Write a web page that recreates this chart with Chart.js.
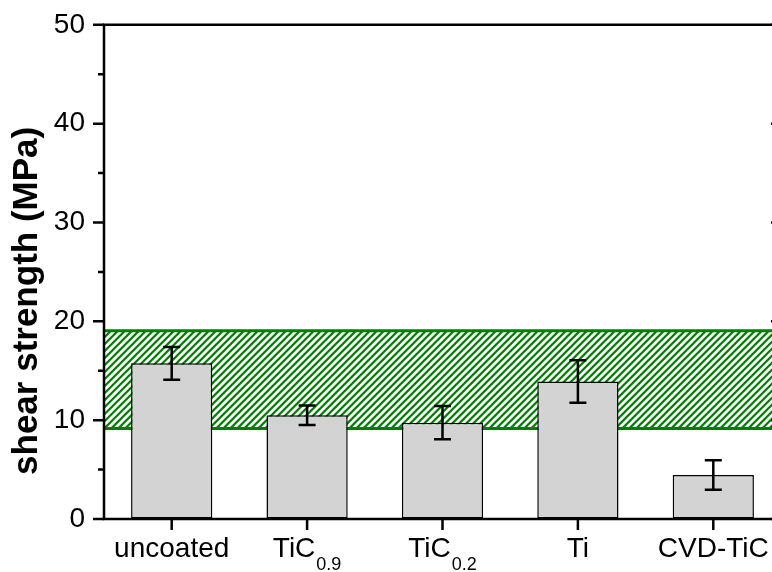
<!DOCTYPE html>
<html>
<head>
<meta charset="utf-8">
<script src="https://cdn.jsdelivr.net/npm/chart.js@4/dist/chart.umd.min.js"></script>
<style>
  html, body { margin: 0; padding: 0; overflow: hidden; background: #fff; width: 772px; height: 572px; }
  canvas { display: block; }
</style>
</head>
<body>
<canvas id="chart" width="790" height="572"></canvas>
<script>
// Shear strength of the joints for each coating
const categories = ['uncoated', 'TiC0.9', 'TiC0.2', 'Ti', 'CVD-TiC'];
const labelMain = ['uncoated', 'TiC', 'TiC', 'Ti', 'CVD-TiC'];
const labelSub = ['', '0.9', '0.2', '', ''];
const strength = [15.75, 10.5, 9.75, 13.9, 4.45];
const strengthErr = [1.65, 0.98, 1.68, 2.15, 1.5];
// reference range shown as a hatched band
const bandRange = [9.15, 19.05];
const yMajorTicks = [0, 10, 20, 30, 40, 50];

const FONT = "'Liberation Sans', Arial, sans-serif";
const GREEN = '#008000';

const bandPlugin = {
  id: 'band',
  beforeDatasetsDraw(chart) {
    const { ctx, chartArea: a, scales: { y } } = chart;
    const top = y.getPixelForValue(bandRange[1]);
    const bot = y.getPixelForValue(bandRange[0]);
    const h = bot - top;
    ctx.save();
    ctx.beginPath();
    ctx.rect(a.left, top, a.right - a.left, h);
    ctx.clip();
    ctx.strokeStyle = GREEN;
    ctx.lineWidth = 2.2;
    ctx.beginPath();
    for (let x = a.left - h; x < a.right + 8; x += 7) {
      ctx.moveTo(x, bot);
      ctx.lineTo(x + h, top);
    }
    ctx.stroke();
    ctx.restore();
    ctx.save();
    ctx.strokeStyle = GREEN;
    ctx.lineWidth = 3;
    ctx.beginPath();
    ctx.moveTo(a.left, top); ctx.lineTo(a.right, top);
    ctx.moveTo(a.left, bot); ctx.lineTo(a.right, bot);
    ctx.stroke();
    ctx.restore();
  }
};

const errorBarPlugin = {
  id: 'errorBars',
  afterDatasetsDraw(chart) {
    const { ctx, scales: { y } } = chart;
    const meta = chart.getDatasetMeta(0);
    ctx.save();
    ctx.strokeStyle = '#000';
    ctx.lineWidth = 2.5;
    meta.data.forEach((bar, i) => {
      const x = bar.x;
      const yHi = y.getPixelForValue(strength[i] + strengthErr[i]);
      const yLo = y.getPixelForValue(strength[i] - strengthErr[i]);
      ctx.beginPath();
      ctx.moveTo(x, yHi); ctx.lineTo(x, yLo);
      ctx.moveTo(x - 8.5, yHi); ctx.lineTo(x + 8.5, yHi);
      ctx.moveTo(x - 8.5, yLo); ctx.lineTo(x + 8.5, yLo);
      ctx.stroke();
    });
    ctx.restore();
  }
};

const framePlugin = {
  id: 'frame',
  afterDraw(chart) {
    const { ctx, chartArea: a, scales: { x, y } } = chart;
    ctx.save();
    ctx.strokeStyle = '#000';
    ctx.lineWidth = 2.5;
    ctx.lineCap = 'square';
    ctx.beginPath();
    ctx.moveTo(a.left, a.top); ctx.lineTo(a.right, a.top);
    ctx.lineTo(a.right, a.bottom); ctx.lineTo(a.left, a.bottom);
    ctx.closePath();
    ctx.stroke();
    ctx.lineCap = 'butt';
    // y ticks: majors every 10, minors every 5; outward on the left, inward on the right
    ctx.beginPath();
    for (let v = 0; v <= 50; v += 5) {
      const py = y.getPixelForValue(v);
      const major = yMajorTicks.includes(v);
      const len = major ? 11 : 6;
      ctx.moveTo(a.left, py); ctx.lineTo(a.left - len, py);
      ctx.moveTo(a.right, py); ctx.lineTo(a.right - (major ? 10 : 5), py);
    }
    // x ticks, outward
    categories.forEach((c, i) => {
      const px = x.getPixelForValue(i);
      ctx.moveTo(px, a.bottom); ctx.lineTo(px, a.bottom + 11);
    });
    ctx.stroke();

    // category labels with subscripts
    ctx.fillStyle = '#000';
    ctx.textBaseline = 'alphabetic';
    ctx.textAlign = 'left';
    const mainFont = '28px ' + FONT;
    const subFont = '18px ' + FONT;
    categories.forEach((c, i) => {
      const px = x.getPixelForValue(i);
      ctx.font = mainFont;
      const wMain = ctx.measureText(labelMain[i]).width;
      ctx.font = subFont;
      const wSub = labelSub[i] ? ctx.measureText(labelSub[i]).width + 1 : 0;
      const x0 = px - (wMain + wSub) / 2;
      ctx.font = mainFont;
      ctx.fillText(labelMain[i], x0, a.bottom + 38);
      if (labelSub[i]) {
        ctx.font = subFont;
        ctx.fillText(labelSub[i], x0 + wMain + 1, a.bottom + 51);
      }
    });

    // y axis title
    ctx.translate(27, (a.top + a.bottom) / 2 + 29);
    ctx.rotate(-Math.PI / 2);
    ctx.textAlign = 'center';
    ctx.textBaseline = 'middle';
    ctx.font = 'bold 35px ' + FONT;
    ctx.fillText('shear strength (MPa)', 0, 0);
    ctx.restore();
  }
};

new Chart(document.getElementById('chart'), {
  type: 'bar',
  data: {
    labels: categories,
    datasets: [{
      data: strength,
      backgroundColor: '#d3d3d3',
      borderColor: '#000',
      borderWidth: 1.5,
      borderSkipped: false,
      barPercentage: 0.6,
      categoryPercentage: 1.0
    }]
  },
  options: {
    responsive: false,
    animation: false,
    devicePixelRatio: 1,
    layout: { padding: { top: 24, right: 9, left: 0, bottom: 0 } },
    plugins: { legend: { display: false }, tooltip: { enabled: false } },
    scales: {
      x: {
        grid: { display: false },
        border: { display: false },
        ticks: { display: false },
        afterFit(s) { s.height = 53; }
      },
      y: {
        min: 0,
        max: 50,
        border: { display: false },
        grid: { drawOnChartArea: false, drawTicks: true, tickLength: 11, color: 'rgba(0,0,0,0)' },
        ticks: {
          stepSize: 5,
          autoSkip: false,
          padding: 8,
          color: '#000',
          font: { family: FONT, size: 28 },
          callback: v => (yMajorTicks.includes(v) ? String(v) : '')
        },
        afterFit(s) { s.width = 104; }
      }
    }
  },
  plugins: [bandPlugin, errorBarPlugin, framePlugin]
});
</script>
</body>
</html>
